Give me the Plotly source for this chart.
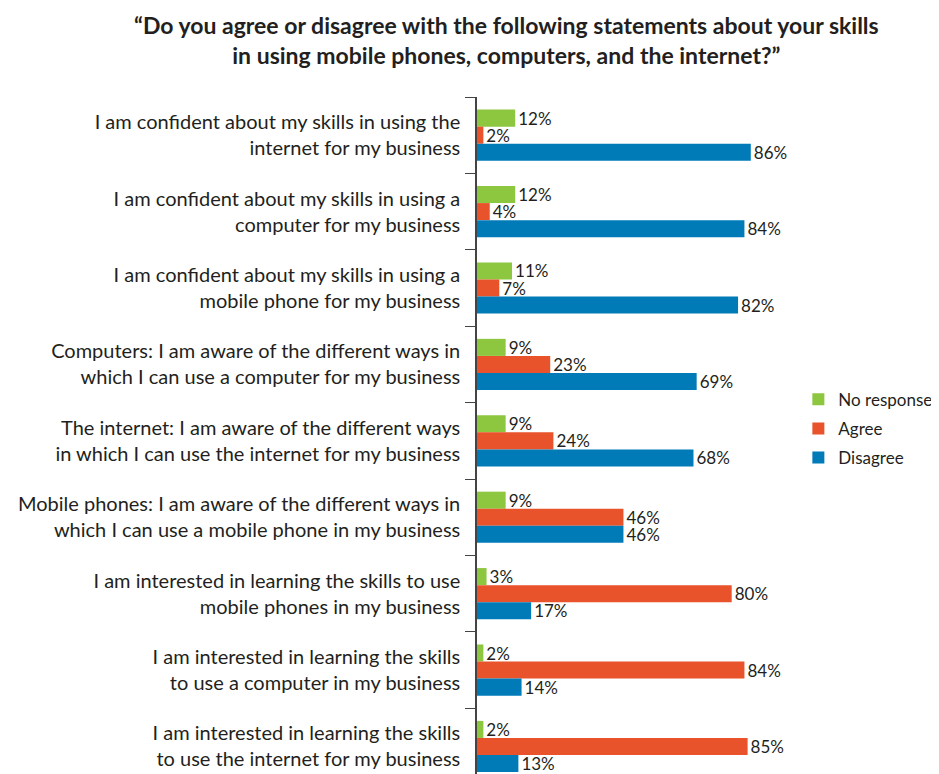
import plotly.graph_objects as go

statements = [
    "I am confident about my skills in using the<br>internet for my business",
    "I am confident about my skills in using a<br>computer for my business",
    "I am confident about my skills in using a<br>mobile phone for my business",
    "Computers: I am aware of the different ways in<br>which I can use a computer for my business",
    "The internet: I am aware of the different ways<br>in which I can use the internet for my business",
    "Mobile phones: I am aware of the different ways in<br>which I can use a mobile phone in my business",
    "I am interested in learning the skills to use<br>mobile phones in my business",
    "I am interested in learning the skills<br>to use a computer in my business",
    "I am interested in learning the skills<br>to use the internet for my business",
]
no_response = [12, 12, 11, 9, 9, 9, 3, 2, 2]
agree = [2, 4, 7, 23, 24, 46, 80, 84, 85]
disagree = [86, 84, 82, 69, 68, 46, 17, 14, 13]

series = [
    ("No response", no_response, "#8dc63f"),
    ("Agree", agree, "#e8532b"),
    ("Disagree", disagree, "#007bb8"),
]

fig = go.Figure()
for name, vals, color in series:
    fig.add_trace(go.Bar(
        y=statements, x=vals, name=name, orientation="h",
        legendgroup=name,
        marker=dict(color=color, line=dict(width=0)),
        text=[f"{v}%" for v in vals], textposition="outside",
        textfont=dict(size=17, color="#231f20"),
        constraintext="none", cliponaxis=False,
    ))

title = ("<b>“Do you agree or disagree with the following statements about your skills"
         "<br>in using mobile phones, computers, and the internet?”</b>")

# the page body has an 8px margin, so the figure is a little smaller than the window
fig.update_layout(
    width=931, height=766,
    margin=dict(l=469, r=150, t=89, b=0),
    barmode="group", bargap=0.33, bargroupgap=0,
    plot_bgcolor="white", paper_bgcolor="white",
    font=dict(family="Lato", color="#231f20"),
    legend=dict(
        x=1.03, xanchor="left", y=0.51, yanchor="middle",
        font=dict(size=17), traceorder="grouped",
        itemsizing="constant", tracegroupgap=4,
    ),
    annotations=[dict(
        text=title, xref="paper", yref="paper", x=0.096, y=1.13,
        xanchor="center", yanchor="top", showarrow=False,
        font=dict(size=23, color="#231f20"),
    )],
)
fig.update_xaxes(range=[0, 98], visible=False)
fig.update_yaxes(
    range=[8.36, -0.5], showline=True, linecolor="#444", linewidth=1.5,
    ticks="outside", tickson="boundaries", ticklen=10, tickcolor="#444",
    tickfont=dict(size=20, color="#231f20"), ticklabelstandoff=11,
    automargin=False,
)

fig.write_html("out.html")
